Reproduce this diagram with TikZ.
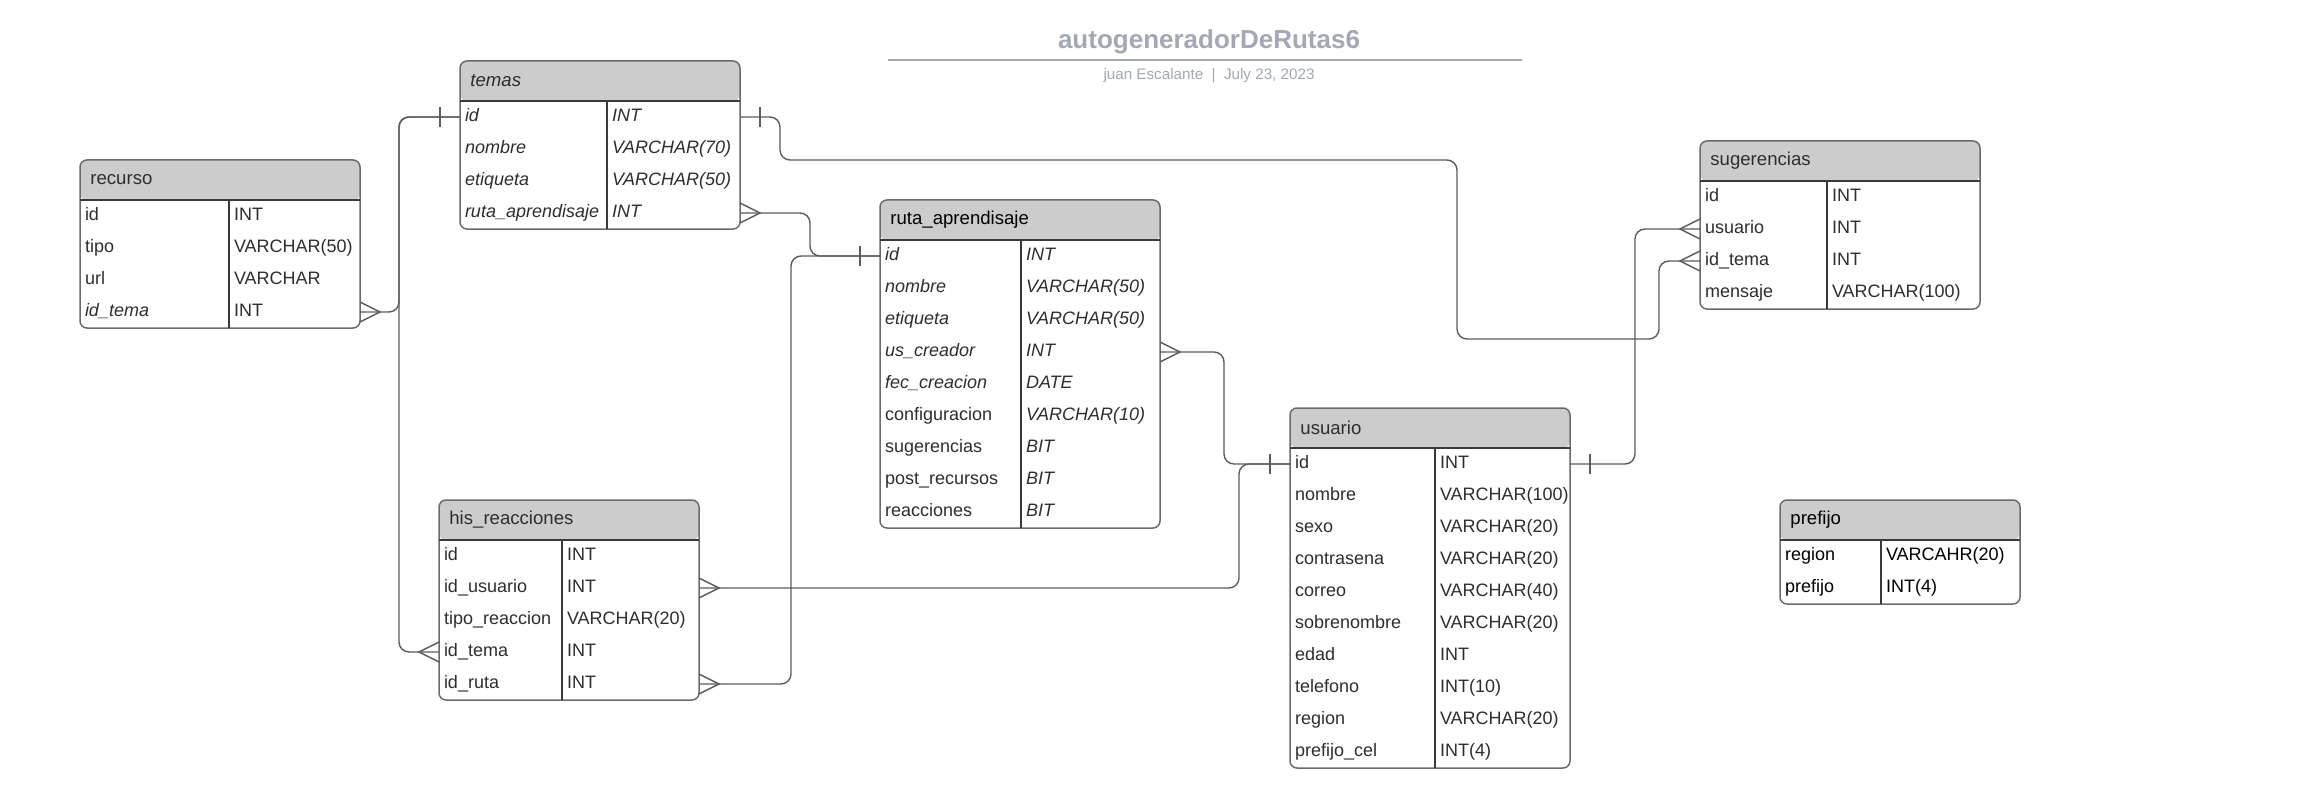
\documentclass[tikz,border=0pt]{standalone}
\usepackage{fontspec}
\setmainfont{Liberation Sans}
\definecolor{hdrgray}{HTML}{CCCCCC}
\definecolor{framegray}{HTML}{6B6B6B}
\definecolor{rulegray}{HTML}{3A3A3A}
\definecolor{linkgray}{HTML}{5C5C5C}
\definecolor{inkgray}{HTML}{2E2E2E}
\definecolor{titlegray}{HTML}{A3A8B3}
\newcommand\rowfont{\fontsize{9}{10}\selectfont}
\newcommand\headfont{\fontsize{9.3}{11}\selectfont}
\tikzset{
  tbl/.style={draw=framegray, line width=0.75pt, rounded corners=3.5pt, fill=white,
    anchor=north west, inner sep=0pt, outer sep=0pt,
    path picture={\fill[hdrgray] (path picture bounding box.north west) rectangle ([yshift=-20pt]path picture bounding box.north east);}},
  hdrtext/.style={anchor=west, inner sep=0pt, font=\headfont, text=inkgray},
  field/.style={anchor=west, inner xsep=2.5pt, inner ysep=0pt, outer sep=0pt, minimum height=16pt,
    text width=#1, align=left, text height=6.3pt, text depth=2pt, font=\rowfont, text=inkgray},
  ftype/.style={anchor=west, inner xsep=2.5pt, inner ysep=0pt, outer sep=0pt,
    text height=6.3pt, text depth=2pt, font=\rowfont, text=inkgray},
  rule/.style={draw=rulegray, line width=0.7pt},
  link/.style={draw=linkgray, line width=0.7pt, rounded corners=5pt},
  notation/.style={draw=linkgray, line width=0.7pt},
  crowfoot/.pic={\draw[notation] (0,-10) -- (20,0) -- (0,10);},
  onebar/.pic={\draw[notation] (20,-10) -- (20,10);},
}
\begin{document}
\begin{tikzpicture}[x=0.5pt, y=-0.5pt]
            \useasboundingbox[fill=white] (0,0) rectangle (2320,808);

            \node[font=\fontsize{13}{15}\selectfont\bfseries, text=titlegray] (title) at (1209,42) {autogeneradorDeRutas6};
            \draw[titlegray, line width=1pt] (888,60) -- (1522,60);
            \node[font=\fontsize{7.6}{9}\selectfont, text=titlegray] (byline) at (1209,76) {juan Escalante~~|~~July 23, 2023};

            \node[tbl, minimum width=140pt, minimum height=84pt] (recurso) at (80,160) {};
            \node[hdrtext] (recurso-h) at (90,180) {recurso};
            \draw[rule] (80,200) -- (360,200);
            \draw[rule] (229,200) -- (229,328);
            \foreach \f/\t [count=\i] in {id/INT, tipo/VARCHAR(50), url/VARCHAR, \textit{id\_tema}/INT} {
                \node[field=135pt] (recurso-\i) at (80,{184+32*\i}) {\f};
                \node[ftype] (recurso-\i-t) at (229,{184+32*\i}) {\t};
            }

            \node[tbl, minimum width=140pt, minimum height=84pt] (temas) at (460,61) {};
            \node[hdrtext] (temas-h) at (470,81) {\textit{temas}};
            \draw[rule] (460,101) -- (740,101);
            \draw[rule] (607,101) -- (607,229);
            \foreach \f/\t [count=\i] in {id/INT, nombre/VARCHAR(70), etiqueta/VARCHAR(50), ruta\_aprendisaje/INT} {
                \node[field=135pt] (temas-\i) at (460,{85+32*\i}) {\textit{\f}};
                \node[ftype] (temas-\i-t) at (607,{85+32*\i}) {\textit{\t}};
            }

            \node[tbl, minimum width=140pt, minimum height=164pt] (ruta) at (880,200) {};
            \node[hdrtext, text=black] (ruta-h) at (890,220) {ruta\_aprendisaje};
            \draw[rule] (880,240) -- (1160,240);
            \draw[rule] (1021,240) -- (1021,528);
            \foreach \f/\t [count=\i] in {\textit{id}/INT, \textit{nombre}/VARCHAR(50), \textit{etiqueta}/VARCHAR(50),
                \textit{us\_creador}/INT, \textit{fec\_creacion}/DATE, configuracion/VARCHAR(10),
                sugerencias/BIT, post\_recursos/BIT, reacciones/BIT} {
                \node[field=135pt] (ruta-\i) at (880,{224+32*\i}) {\f};
                \node[ftype] (ruta-\i-t) at (1021,{224+32*\i}) {\textit{\t}};
            }

            \node[tbl, minimum width=130pt, minimum height=100pt] (his) at (439,500) {};
            \node[hdrtext] (his-h) at (449,520) {his\_reacciones};
            \draw[rule] (439,540) -- (699,540);
            \draw[rule] (562,540) -- (562,700);
            \foreach \f/\t [count=\i] in {id/INT, id\_usuario/INT, tipo\_reaccion/VARCHAR(20), id\_tema/INT, id\_ruta/INT} {
                \node[field=125pt] (his-\i) at (439,{524+32*\i}) {\f};
                \node[ftype] (his-\i-t) at (562,{524+32*\i}) {\t};
            }

            \node[tbl, minimum width=140pt, minimum height=180pt] (usuario) at (1290,408) {};
            \node[hdrtext] (usuario-h) at (1300,428) {usuario};
            \draw[rule] (1290,448) -- (1570,448);
            \draw[rule] (1435,448) -- (1435,768);
            \foreach \f/\t [count=\i] in {id/INT, nombre/VARCHAR(100), sexo/VARCHAR(20), contrasena/VARCHAR(20),
                correo/VARCHAR(40), sobrenombre/VARCHAR(20), edad/INT, telefono/INT(10), region/VARCHAR(20), prefijo\_cel/INT(4)} {
                \node[field=135pt] (usuario-\i) at (1290,{432+32*\i}) {\f};
                \node[ftype] (usuario-\i-t) at (1435,{432+32*\i}) {\t};
            }

            \node[tbl, minimum width=140pt, minimum height=84pt] (suger) at (1700,141) {};
            \node[hdrtext] (suger-h) at (1710,161) {sugerencias};
            \draw[rule] (1700,181) -- (1980,181);
            \draw[rule] (1827,181) -- (1827,309);
            \foreach \f/\t [count=\i] in {id/INT, usuario/INT, id\_tema/INT, mensaje/VARCHAR(100)} {
                \node[field=135pt] (suger-\i) at (1700,{165+32*\i}) {\f};
                \node[ftype] (suger-\i-t) at (1827,{165+32*\i}) {\t};
            }

            \node[tbl, minimum width=120pt, minimum height=52pt] (prefijo) at (1780,500) {};
            \node[hdrtext, text=black] (prefijo-h) at (1790,520) {prefijo};
            \draw[rule] (1780,540) -- (2020,540);
            \draw[rule] (1881,540) -- (1881,604);
            \foreach \f/\t [count=\i] in {region/VARCAHR(20), prefijo/INT(4)} {
                \node[field=115pt, text=black] (prefijo-\i) at (1780,{524+32*\i}) {\f};
                \node[ftype, text=black] (prefijo-\i-t) at (1881,{524+32*\i}) {\t};
            }

            \draw[link] (temas-1.west) -- ++(-61,0) |- (recurso-4.east);
            \draw[link] (temas-1.west) -- ++(-61,0) |- (his-4.west);
            \draw[link] (temas-1.east) -- ++(40,0) -- ++(0,43) -- ++(677,0) -- ++(0,179) -- ++(202,0) |- (suger-3.west);
            \draw[link] (temas-4.east) -- ++(70,0) |- (ruta-1.west);
            \draw[link] (ruta-1.west) -- ++(-89,0) |- (his-5.east);
            \draw[link] (ruta-4.east) -- ++(64,0) |- (usuario-1.west);
            \draw[link] (usuario-1.west) -- ++(-51,0) |- (his-2.east);
            \draw[link] (usuario-1.east) -- ++(65,0) |- (suger-2.west);

            \pic at (recurso-4.east) {crowfoot};
            \pic[xscale=-1] at (his-4.west) {crowfoot};
            \pic[xscale=-1] at (temas-1.west) {onebar};
            \pic at (temas-1.east) {onebar};
            \pic[xscale=-1] at (suger-3.west) {crowfoot};
            \pic at (temas-4.east) {crowfoot};
            \pic[xscale=-1] at (ruta-1.west) {onebar};
            \pic at (his-5.east) {crowfoot};
            \pic at (ruta-4.east) {crowfoot};
            \pic[xscale=-1] at (usuario-1.west) {onebar};
            \pic at (his-2.east) {crowfoot};
            \pic at (usuario-1.east) {onebar};
            \pic[xscale=-1] at (suger-2.west) {crowfoot};

        \end{tikzpicture}
\end{document}
